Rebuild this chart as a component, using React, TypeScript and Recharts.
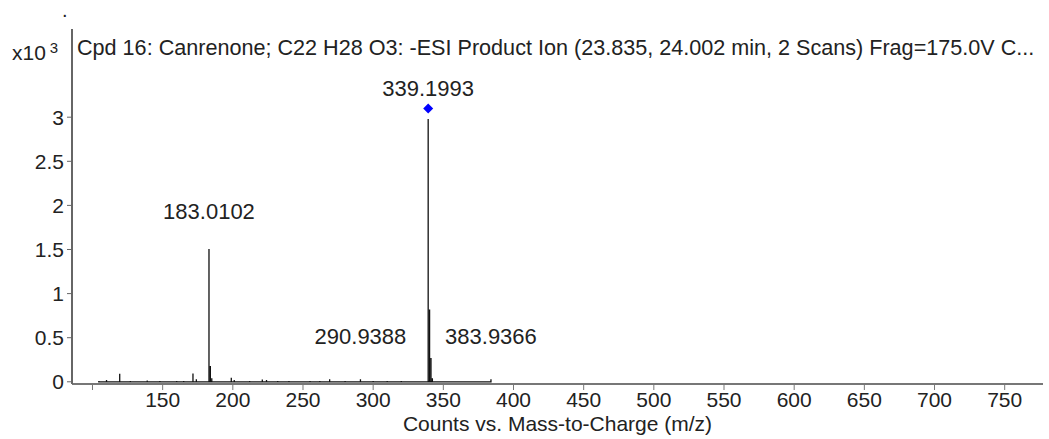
import React from 'react';
import { ComposedChart, Line, Scatter, XAxis, YAxis } from 'recharts';

// product ion spectrum, m/z and counts
const peakMz = [
  104.5, 110.0, 119.4, 127.0, 139.0, 148.0, 160.0, 165.0, 171.6, 174.0, 183.0102, 184.0, 185.0,
  198.9, 201.0, 212.0, 221.0, 224.0, 232.0, 240.0, 255.0, 262.0, 269.0, 280.0, 290.9388, 300.0,
  310.0, 320.0, 339.1993, 340.2, 341.2, 342.2, 383.9366,
];
const peakCounts = [
  10, 20, 90, 8, 15, 10, 10, 8, 95, 30, 1506, 180, 40,
  45, 20, 10, 25, 20, 8, 10, 10, 8, 30, 10, 30, 8,
  10, 10, 2980, 820, 270, 40, 30,
];

const labelMz = [183.0102, 339.1993, 290.9388, 383.9366];
const labelText = ['183.0102', '339.1993', '290.9388', '383.9366'];
const labelCounts = [1850, 3246, 430, 430];

const precursorMz = [339.1993];
const precursorCounts = [3100];

const xTicks = [100, 150, 200, 250, 300, 350, 400, 450, 500, 550, 600, 650, 700, 750];
const yTicks = [0, 500, 1000, 1500, 2000, 2500, 3000];

const title =
  'Cpd 16: Canrenone; C22 H28 O3: -ESI Product Ion (23.835, 24.002 min, 2 Scans) Frag=175.0V C...';

const FONT = '"Liberation Sans", Arial, sans-serif';

// each peak as a stick: baseline -> top -> baseline
const sticks = peakMz.flatMap((mz, i) => [
  { mz, c: 0 },
  { mz, c: peakCounts[i] },
  { mz, c: 0 },
]);
const labels = labelMz.map((mz, i) => ({ mz, c: labelCounts[i], text: labelText[i] }));
const precursor = precursorMz.map((mz, i) => ({ mz, c: precursorCounts[i] }));

const PeakLabel = (props: any) => {
  const { cx, cy, payload } = props;
  return (
    <text x={cx} y={cy} textAnchor="middle" fontSize={22} fontFamily={FONT} fill="#222">
      {payload.text}
    </text>
  );
};

const Diamond = (props: any) => {
  const { cx, cy } = props;
  const r = 5;
  return (
    <path
      d={`M${cx},${cy - r} L${cx + r},${cy} L${cx},${cy + r} L${cx - r},${cy} Z`}
      fill="#0000ff"
    />
  );
};

const App: React.FC = () => {
  const tickStyle = { fontSize: 21, fontFamily: FONT, fill: '#222' };
  return (
    <div style={{ position: 'absolute', left: 0, top: 0, width: 1049, height: 439, background: '#fff' }}>
      <ComposedChart width={1049} height={439} margin={{ top: 29, right: 6, bottom: 0, left: 0 }}>
        <XAxis
          xAxisId="b"
          type="number"
          dataKey="mz"
          domain={[85.4, 777.3]}
          ticks={xTicks}
          tickFormatter={(v: number) => (v === 100 ? '' : String(v))}
          allowDataOverflow
          height={55}
          tickSize={6}
          tickMargin={2}
          interval={0}
          axisLine={{ stroke: '#777', strokeWidth: 2 }}
          tickLine={{ stroke: '#777' }}
          tick={tickStyle}
        />
        <XAxis
          xAxisId="t"
          orientation="top"
          type="number"
          dataKey="mz"
          domain={[85.4, 777.3]}
          height={0}
          tick={false}
          tickLine={false}
          axisLine={{ stroke: '#999', strokeWidth: 1.5 }}
        />
        <YAxis
          yAxisId="l"
          type="number"
          domain={[-25, 4000]}
          ticks={yTicks}
          tickFormatter={(v: number) => String(v / 1000)}
          allowDataOverflow
          width={72}
          tickSize={5}
          tickMargin={3}
          interval={0}
          axisLine={{ stroke: '#666', strokeWidth: 2 }}
          tickLine={{ stroke: '#666' }}
          tick={tickStyle}
        />
        <YAxis
          yAxisId="r"
          orientation="right"
          type="number"
          domain={[-25, 4000]}
          width={0}
          tick={false}
          tickLine={false}
          axisLine={{ stroke: '#999', strokeWidth: 1.5 }}
        />
        <Line
          xAxisId="b"
          yAxisId="l"
          data={sticks}
          dataKey="c"
          type="linear"
          stroke="#111"
          strokeWidth={1.3}
          dot={false}
          activeDot={false}
          isAnimationActive={false}
        />
        <Scatter
          xAxisId="b"
          yAxisId="l"
          data={precursor}
          dataKey="c"
          shape={Diamond}
          isAnimationActive={false}
        />
        <Scatter
          xAxisId="b"
          yAxisId="l"
          data={labels}
          dataKey="c"
          shape={PeakLabel}
          isAnimationActive={false}
        />
      </ComposedChart>
      <div
        style={{
          position: 'absolute',
          left: 77,
          top: 37,
          fontFamily: FONT,
          fontSize: 21.6,
          lineHeight: '22px',
          color: '#222',
          whiteSpace: 'nowrap',
        }}
      >
        {title}
      </div>
      <div
        style={{
          position: 'absolute',
          left: 12,
          top: 42,
          fontFamily: FONT,
          fontSize: 21,
          lineHeight: '21px',
          color: '#222',
          whiteSpace: 'nowrap',
        }}
      >
        x10<span style={{ fontSize: 15, position: 'relative', top: -7, marginLeft: 4 }}>3</span>
      </div>
      <div
        style={{
          position: 'absolute',
          left: 62,
          top: 0,
          fontFamily: FONT,
          fontSize: 20,
          lineHeight: '20px',
          color: '#222',
        }}
      >
        .
      </div>
      <div
        style={{
          position: 'absolute',
          left: 72,
          width: 971,
          top: 413,
          textAlign: 'center',
          fontFamily: FONT,
          fontSize: 21,
          lineHeight: '21px',
          color: '#222',
          whiteSpace: 'nowrap',
        }}
      >
        Counts vs. Mass-to-Charge (m/z)
      </div>
    </div>
  );
};

export default App;
